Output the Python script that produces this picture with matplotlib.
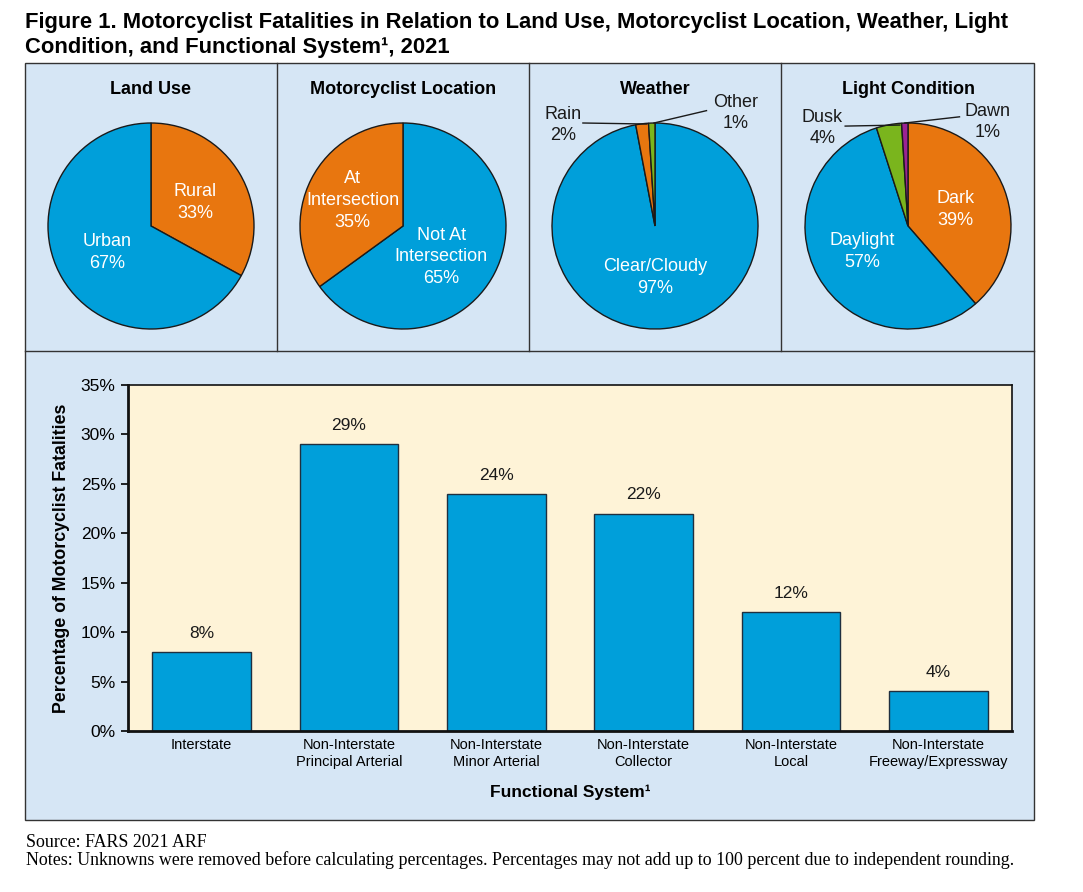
import matplotlib.pyplot as plt
from matplotlib.patches import Rectangle
from matplotlib.lines import Line2D
from matplotlib.ticker import PercentFormatter

plt.rcParams['font.family'] = ['Liberation Sans', 'DejaVu Sans']

# Data
land_labels = ["Rural", "Urban"]
land_values = [33, 67]
loc_labels = ["Not At\nIntersection", "At\nIntersection"]
loc_values = [65, 35]
weather_labels = ["Clear/Cloudy", "Rain", "Other"]
weather_values = [97, 2, 1]
light_labels = ["Dark", "Daylight", "Dusk", "Dawn"]
light_values = [39, 57, 4, 1]

systems = ["Interstate", "Non-Interstate\nPrincipal Arterial", "Non-Interstate\nMinor Arterial",
           "Non-Interstate\nCollector", "Non-Interstate\nLocal", "Non-Interstate\nFreeway/Expressway"]
system_pct = [8, 29, 24, 22, 12, 4]

# Colours
BLUE = '#009fda'
ORANGE = '#e8760f'
GREEN = '#7ab51d'
PURPLE = '#9b2393'
PANEL = '#d6e6f5'
CREAM = '#fef3d7'

W, H = 1083, 892
fig = plt.figure(figsize=(W / 100, H / 100), dpi=100)


def fx(x):
    return x / W


def fy(y):
    return 1 - y / H


# Background panel and dividers
fig.patches.append(Rectangle((fx(25), fy(820)), fx(1034) - fx(25), fy(63) - fy(820),
                             transform=fig.transFigure, facecolor=PANEL,
                             edgecolor='#333333', linewidth=1, zorder=-5))
fig.lines.append(Line2D([fx(25), fx(1034)], [fy(351), fy(351)], transform=fig.transFigure,
                        color='#333333', linewidth=1, zorder=-4))
for xv in (277, 529, 781):
    fig.lines.append(Line2D([fx(xv), fx(xv)], [fy(63), fy(351)], transform=fig.transFigure,
                            color='#333333', linewidth=1, zorder=-4))

# Title
fig.text(fx(25), fy(28), "Figure 1. Motorcyclist Fatalities in Relation to Land Use, Motorcyclist Location, Weather, Light",
         fontsize=15.8, fontweight='bold', ha='left', va='baseline')
fig.text(fx(25), fy(53), "Condition, and Functional System¹, 2021",
         fontsize=15.8, fontweight='bold', ha='left', va='baseline')

# Pies
R = 103
S = 1.35
pies = [
    ("Land Use", 151, land_values, [ORANGE, BLUE]),
    ("Motorcyclist Location", 403, loc_values, [BLUE, ORANGE]),
    ("Weather", 655, weather_values, [BLUE, ORANGE, GREEN]),
    ("Light Condition", 908, light_values, [ORANGE, BLUE, GREEN, PURPLE]),
]
pie_axes = []
for title, cx, vals, cols in pies:
    cy = 226
    ax = fig.add_axes([fx(cx - R * S), fy(cy + R * S), 2 * R * S / W, 2 * R * S / H])
    ax.pie(vals, colors=cols, startangle=90, counterclock=False,
           wedgeprops=dict(edgecolor='#1a1a1a', linewidth=1))
    ax.set_xlim(-S, S)
    ax.set_ylim(-S, S)
    ax.set_aspect('auto')
    ax.axis('off')
    fig.text(fx(cx), fy(89), title, fontsize=13, fontweight='bold', ha='center', va='center')
    pie_axes.append(ax)

lab_kw = dict(fontsize=13, color='white', ha='center', va='center', linespacing=1.37)
out_kw = dict(fontsize=13, color='#1a1a1a', ha='center', va='center', linespacing=1.3)

ax = pie_axes[0]
ax.text(0.43, 0.23, f"{land_labels[0]}\n{land_values[0]}%", **lab_kw)
ax.text(-0.43, -0.26, f"{land_labels[1]}\n{land_values[1]}%", **lab_kw)

ax = pie_axes[1]
ax.text(0.37, -0.30, f"{loc_labels[0]}\n{loc_values[0]}%", **lab_kw)
ax.text(-0.49, 0.25, f"{loc_labels[1]}\n{loc_values[1]}%", **lab_kw)

ax = pie_axes[2]
ax.text(0.0, -0.50, f"{weather_labels[0]}\n{weather_values[0]}%", **lab_kw)
ax.text(-0.89, 0.98, f"{weather_labels[1]}\n{weather_values[1]}%", **out_kw)
ax.text(0.78, 1.10, f"{weather_labels[2]}\n{weather_values[2]}%", **out_kw)
ax.plot([-0.70, -0.08], [1.00, 0.99], color='#1a1a1a', linewidth=1)
ax.plot([0.50, -0.01], [1.12, 1.00], color='#1a1a1a', linewidth=1)

ax = pie_axes[3]
ax.text(0.46, 0.16, f"{light_labels[0]}\n{light_values[0]}%", **lab_kw)
ax.text(-0.44, -0.25, f"{light_labels[1]}\n{light_values[1]}%", **lab_kw)
ax.text(-0.83, 0.95, f"{light_labels[2]}\n{light_values[2]}%", **out_kw)
ax.text(0.77, 1.01, f"{light_labels[3]}\n{light_values[3]}%", **out_kw)
ax.plot([-0.61, -0.08], [0.97, 0.98], color='#1a1a1a', linewidth=1)
ax.plot([0.50, -0.03], [1.06, 1.00], color='#1a1a1a', linewidth=1)

# Bar chart
bx = fig.add_axes([fx(128), fy(731), (1012 - 128) / W, (731 - 385) / H])
bx.set_facecolor(CREAM)
x = range(len(systems))
bars = bx.bar(x, system_pct, width=0.67, color=BLUE, edgecolor='#1f2f3f', linewidth=1)
bx.bar_label(bars, labels=[f"{v}%" for v in system_pct], padding=8, fontsize=12.5, color='#1a1a1a')
bx.set_xlim(-0.5, len(systems) - 0.5)
bx.set_ylim(0, 35)
bx.set_yticks(range(0, 36, 5))
bx.yaxis.set_major_formatter(PercentFormatter(decimals=0))
bx.set_xticks(list(x))
bx.set_xticklabels(systems, fontsize=10.5, linespacing=1.3)
bx.tick_params(axis='x', length=0, pad=5)
bx.tick_params(axis='y', length=5, width=1.2, labelsize=12.5, pad=4)
for sp in bx.spines.values():
    sp.set_linewidth(1.2)
    sp.set_color('#111111')
bx.spines['left'].set_linewidth(2)
bx.spines['bottom'].set_linewidth(2)

fig.text(fx(62), fy(558), "Percentage of Motorcyclist Fatalities", rotation=90,
         fontsize=12.8, fontweight='bold', ha='center', va='center')
fig.text(fx(570), fy(792), "Functional System¹", fontsize=12.5, fontweight='bold',
         ha='center', va='center')

# Footnotes
fig.text(fx(26), fy(847), "Source: FARS 2021 ARF", fontsize=12.9, family='Liberation Serif',
         ha='left', va='baseline')
fig.text(fx(26), fy(865), "Notes: Unknowns were removed before calculating percentages. Percentages may not add up to 100 percent due to independent rounding.",
         fontsize=12.9, family='Liberation Serif', ha='left', va='baseline')

fig.savefig('out.png', dpi=100, facecolor='white')
